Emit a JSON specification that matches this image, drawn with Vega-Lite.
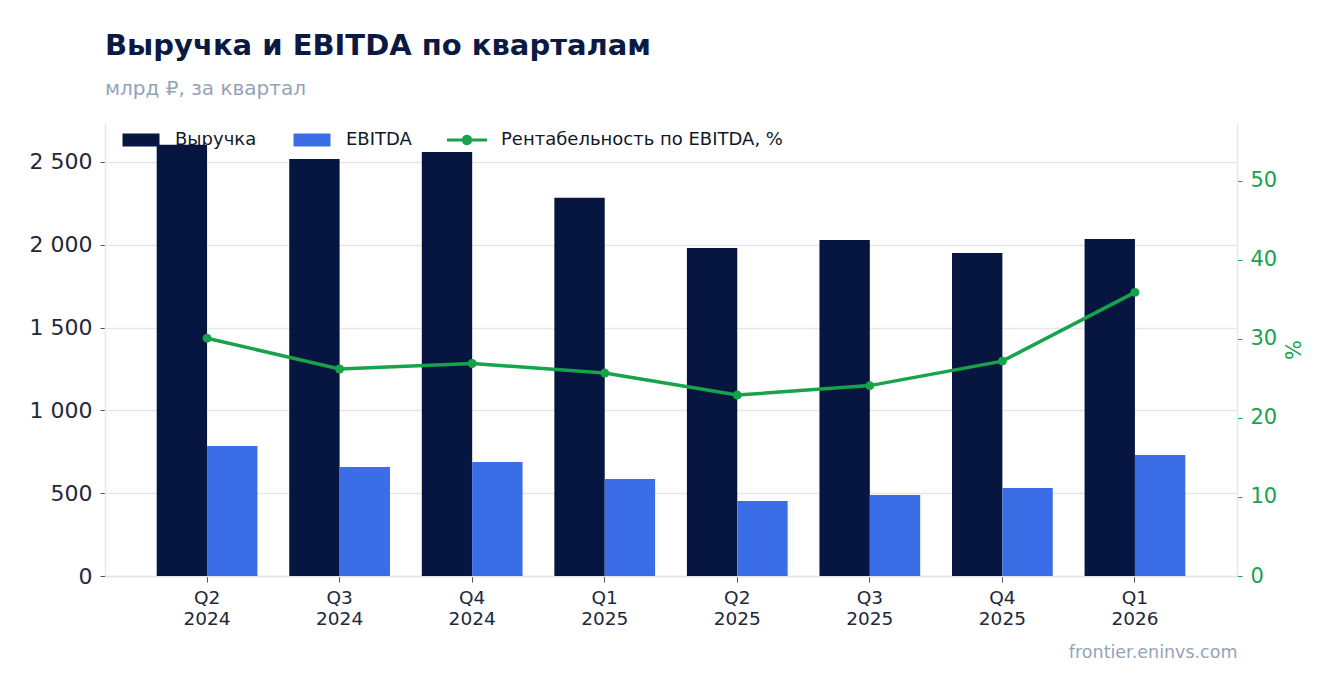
{
  "$schema": "https://vega.github.io/schema/vega-lite/v6.json",
  "width": 1132,
  "height": 453,
  "autosize": "none",
  "padding": {"left": 105, "top": 123, "right": 99, "bottom": 117},
  "background": "white",
  "title": {
    "text": "Выручка и EBITDA по кварталам",
    "subtitle": "млрд ₽, за квартал",
    "anchor": "start",
    "frame": "group",
    "font": "DejaVu Sans",
    "fontSize": 29,
    "fontWeight": "bold",
    "color": "#0b1a42",
    "subtitleFont": "DejaVu Sans",
    "subtitleFontSize": 20,
    "subtitleColor": "#94a3b8",
    "subtitlePadding": 18,
    "offset": 21
  },
  "datasets": {
    "bars": [
      {"q": "Q2 2024", "series": "Выручка", "value": 2603},
      {"q": "Q2 2024", "series": "EBITDA", "value": 785},
      {"q": "Q3 2024", "series": "Выручка", "value": 2518},
      {"q": "Q3 2024", "series": "EBITDA", "value": 658},
      {"q": "Q4 2024", "series": "Выручка", "value": 2560},
      {"q": "Q4 2024", "series": "EBITDA", "value": 688},
      {"q": "Q1 2025", "series": "Выручка", "value": 2283},
      {"q": "Q1 2025", "series": "EBITDA", "value": 586},
      {"q": "Q2 2025", "series": "Выручка", "value": 1981},
      {"q": "Q2 2025", "series": "EBITDA", "value": 453},
      {"q": "Q3 2025", "series": "Выручка", "value": 2029},
      {"q": "Q3 2025", "series": "EBITDA", "value": 489},
      {"q": "Q4 2025", "series": "Выручка", "value": 1950},
      {"q": "Q4 2025", "series": "EBITDA", "value": 531},
      {"q": "Q1 2026", "series": "Выручка", "value": 2035},
      {"q": "Q1 2026", "series": "EBITDA", "value": 731}
    ],
    "margin": [
      {"q": "Q2 2024", "pct": 30.1},
      {"q": "Q3 2024", "pct": 26.2},
      {"q": "Q4 2024", "pct": 26.9},
      {"q": "Q1 2025", "pct": 25.7},
      {"q": "Q2 2025", "pct": 22.9},
      {"q": "Q3 2025", "pct": 24.1},
      {"q": "Q4 2025", "pct": 27.2},
      {"q": "Q1 2026", "pct": 35.9}
    ]
  },
  "encoding": {
    "x": {
      "field": "q",
      "type": "nominal",
      "sort": null,
      "scale": {"paddingInner": 0.24, "paddingOuter": 0.39},
      "axis": {
        "title": "frontier.eninvs.com",
        "titleAnchor": "end",
        "titleFont": "DejaVu Sans",
        "titleFontSize": 17.5,
        "titleFontWeight": "normal",
        "titleColor": "#94a3b8",
        "titlePadding": 16,
        "labelExpr": "split(datum.value, ' ')",
        "labelAngle": 0,
        "labelFont": "DejaVu Sans",
        "labelFontSize": 18.5,
        "labelLineHeight": 21,
        "labelColor": "#1e293b",
        "labelPadding": 6,
        "tickColor": "#475569",
        "tickSize": 6,
        "domainColor": "#e2e8f0",
        "domainWidth": 1.5
      }
    }
  },
  "layer": [
    {
      "data": {"name": "bars"},
      "mark": {"type": "bar"},
      "encoding": {
        "xOffset": {"field": "series", "type": "nominal", "sort": ["Выручка", "EBITDA"], "scale": {"paddingInner": 0}},
        "y": {
          "field": "value",
          "type": "quantitative",
          "scale": {"domain": [0, 2735], "nice": false, "zero": true},
          "axis": {
            "title": null,
            "orient": "left",
            "values": [0, 500, 1000, 1500, 2000, 2500],
            "labelExpr": "replace(format(datum.value, ','), ',', ' ')",
            "labelFont": "DejaVu Sans",
            "labelFontSize": 22,
            "labelColor": "#1e293b",
            "labelPadding": 8,
            "tickColor": "#475569",
            "tickSize": 5,
            "domainColor": "#e2e8f0",
            "domainWidth": 1.5,
            "gridColor": "#e5e7eb",
            "gridWidth": 1.5
          }
        },
        "color": {
          "field": "series",
          "type": "nominal",
          "scale": {
            "domain": ["Выручка", "EBITDA", "Рентабельность по EBITDA, %"],
            "range": ["#061640", "#3b6de6", "#16a34a"]
          },
          "legend": {
            "title": null,
            "orient": "none",
            "legendX": 16,
            "legendY": -3,
            "direction": "horizontal",
            "padding": 0,
            "symbolSize": 1600,
            "labelFont": "DejaVu Sans",
            "labelFontSize": 18,
            "labelLimit": 500,
            "labelColor": "#111827",
            "labelOffset": 14,
            "columnPadding": 35,
            "values": ["Выручка", "EBITDA", "Рентабельность по EBITDA, %"],
            "encode": {
              "symbols": {
                "update": {
                  "shape": {"signal": "datum.value === 'Рентабельность по EBITDA, %' ? 'M-1,-0.08H1V0.08H-1Z M-0.26,0A0.26,0.26 0 1,1 0.26,0A0.26,0.26 0 1,1 -0.26,0Z' : 'M-0.925,-0.33H0.925V0.33H-0.925Z'"},
                  "strokeWidth": {"value": 0},
                  "opacity": {"value": 1}
                }
              }
            }
          }
        }
      }
    },
    {
      "data": {"name": "margin"},
      "mark": {"type": "line", "color": "#16a34a", "strokeWidth": 3.5, "point": {"filled": true, "size": 80, "color": "#16a34a"}},
      "encoding": {
        "y": {
          "field": "pct",
          "type": "quantitative",
          "scale": {"domain": [0, 57.34], "nice": false},
          "axis": {
            "title": "%",
            "orient": "right",
            "titleAngle": 270,
            "titleFont": "DejaVu Sans",
            "titleFontSize": 21,
            "titleFontWeight": "normal",
            "titleColor": "#16a34a",
            "titlePadding": 28,
            "values": [0, 10, 20, 30, 40, 50],
            "labelFont": "DejaVu Sans",
            "labelFontSize": 21,
            "labelColor": "#16a34a",
            "labelPadding": 8,
            "tickColor": "#16a34a",
            "tickSize": 5,
            "domainColor": "#e2e8f0",
            "domainWidth": 1.5,
            "grid": false
          }
        }
      }
    }
  ],
  "resolve": {"scale": {"y": "independent"}},
  "config": {"view": {"stroke": null}}
}
